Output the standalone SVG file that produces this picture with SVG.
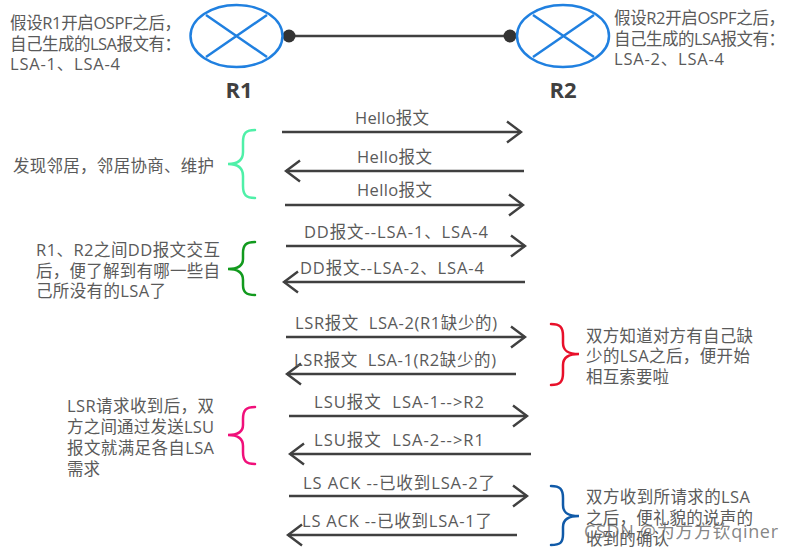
<svg xmlns="http://www.w3.org/2000/svg" width="794" height="551" viewBox="0 0 794 551">
<defs>
<marker id="ah" markerUnits="userSpaceOnUse" markerWidth="24" markerHeight="28" refX="20" refY="14" orient="auto-start-reverse" viewBox="0 0 24 28"><path d="M6 3.5L20 14L6 24.500" fill="none" stroke="#404040" stroke-width="2.400"/></marker>
</defs>
<style>
text{font-family:"Open Sans","Noto Sans CJK SC",sans-serif;font-size:16.500px;fill:#5a5a5a;white-space:pre}
.t{font-size:22px;font-weight:700;fill:#404040;text-anchor:middle}
.wm{font-size:18px;fill:#666;fill-opacity:.8}
.r{fill:none;stroke:#2080e0;stroke-width:2.500}
.a{fill:none;stroke:#404040;stroke-width:2.400;marker-end:url(#ah)}
.b{fill:none;stroke-width:2.500;stroke-linecap:round}
</style>
<rect width="794" height="551" fill="#fff"/>
<g id="connectors">
<path d="M289 36H510" stroke="#404040" stroke-width="2.400" fill="none"/>
<circle cx="289" cy="36" r="6.500" fill="#333"/>
<circle cx="510" cy="36" r="6.500" fill="#333"/>
<path class="a" d="M282 132H521"/>
<path class="a" d="M524 171H286"/>
<path class="a" d="M285 205H523"/>
<path class="a" d="M286 246H525"/>
<path class="a" d="M525 282H284"/>
<path class="a" d="M286 337H525"/>
<path class="a" d="M516 374H287"/>
<path class="a" d="M289 416H527"/>
<path class="a" d="M531 454H290"/>
<path class="a" d="M289 496H527"/>
<path class="a" d="M517 535H288"/>
</g>
<g id="R1"><ellipse class="r" cx="236.500" cy="36" rx="46" ry="31"/><path class="r" d="M206 15L267 57M206 57L267 15"/><text class="t" x="239" y="98">R1</text></g>
<g id="R2"><ellipse class="r" cx="563" cy="36" rx="46" ry="31"/><path class="r" d="M533 15L594 57M533 57L594 15"/><text class="t" x="563" y="98">R2</text></g>
<g id="note-r1"><text x="10" y="29" textLength="171">假设R1开启OSPF之后，</text><text x="10" y="50" textLength="171">自己生成的LSA报文有：</text><text x="10" y="70" textLength="110">LSA-1、LSA-4</text></g>
<g id="note-r2"><text x="614" y="24" textLength="171">假设R2开启OSPF之后，</text><text x="614" y="45" textLength="171">自己生成的LSA报文有：</text><text x="614" y="65" textLength="110">LSA-2、LSA-4</text></g>
<g id="labels">
<text x="355" y="124" textLength="74">Hello报文</text>
<text x="357" y="163" textLength="75">Hello报文</text>
<text x="357" y="196" textLength="75">Hello报文</text>
<text x="304" y="238" textLength="184">DD报文--LSA-1、LSA-4</text>
<text x="300" y="274" textLength="184">DD报文--LSA-2、LSA-4</text>
<text x="295" y="329" textLength="202">LSR报文  LSA-2(R1缺少的)</text>
<text x="294" y="366" textLength="202">LSR报文  LSA-1(R2缺少的)</text>
<text x="314" y="408" textLength="170">LSU报文  LSA-1--&gt;R2</text>
<text x="314" y="446" textLength="170">LSU报文  LSA-2--&gt;R1</text>
<text x="303" y="489" textLength="192">LS ACK --已收到LSA-2了</text>
<text x="302" y="527" textLength="190">LS ACK --已收到LSA-1了</text>
</g>
<g id="group-hello"><path class="b" stroke="#4ff0a8" d="M255 130C246 130 243 133 243 142V152C243 160 238 164 228 164C238 164 243 168 243 176V186C243 195 246 198 255 198"/><text x="13" y="172" textLength="201">发现邻居，邻居协商、维护</text></g>
<g id="group-dd"><path class="b" stroke="#129a1e" d="M255 242C246 242 243 245 243 253V259C243 266 238 269 228 269C238 269 243 273 243 280V285C243 292 246 295 255 295"/><text x="36" y="256" textLength="184">R1、R2之间DD报文交互</text><text x="36" y="277" textLength="184">后，便了解到有哪一些自</text><text x="36" y="297" textLength="130">己所没有的LSA了</text></g>
<g id="group-lsr"><path class="b" stroke="#e8102a" d="M551 324C560 324 563 327 563 336V343C563 351 568 354 579 354C568 354 563 358 563 365V373C563 382 560 385 551 385"/><text x="586" y="342" textLength="167">双方知道对方有自己缺</text><text x="586" y="362" textLength="164">少的LSA之后，便开始</text><text x="586" y="383" textLength="83">相互索要啦</text></g>
<g id="group-lsu"><path class="b" stroke="#f0107a" d="M255 407C246 407 243 410 243 419V425C243 432 238 435 228 435C238 435 243 439 243 446V452C243 461 246 464 255 464"/><text x="67" y="412" textLength="147">LSR请求收到后，双</text><text x="67" y="433" textLength="147">方之间通过发送LSU</text><text x="67" y="454" textLength="147">报文就满足各自LSA</text><text x="67" y="475" textLength="33">需求</text></g>
<g id="group-ack"><path class="b" stroke="#105aa8" d="M551 486C560 486 563 489 563 498V505C563 513 568 516 579 516C568 516 563 520 563 527V534C563 543 560 545 551 545"/><text x="586" y="503" textLength="164">双方收到所请求的LSA</text><text x="586" y="524" textLength="167">之后，便礼貌的说声的</text><text x="586" y="545" textLength="83">收到的确认</text></g>
<text class="wm" x="584" y="538" textLength="194">CSDN @为方方钦qiner</text>
</svg>
